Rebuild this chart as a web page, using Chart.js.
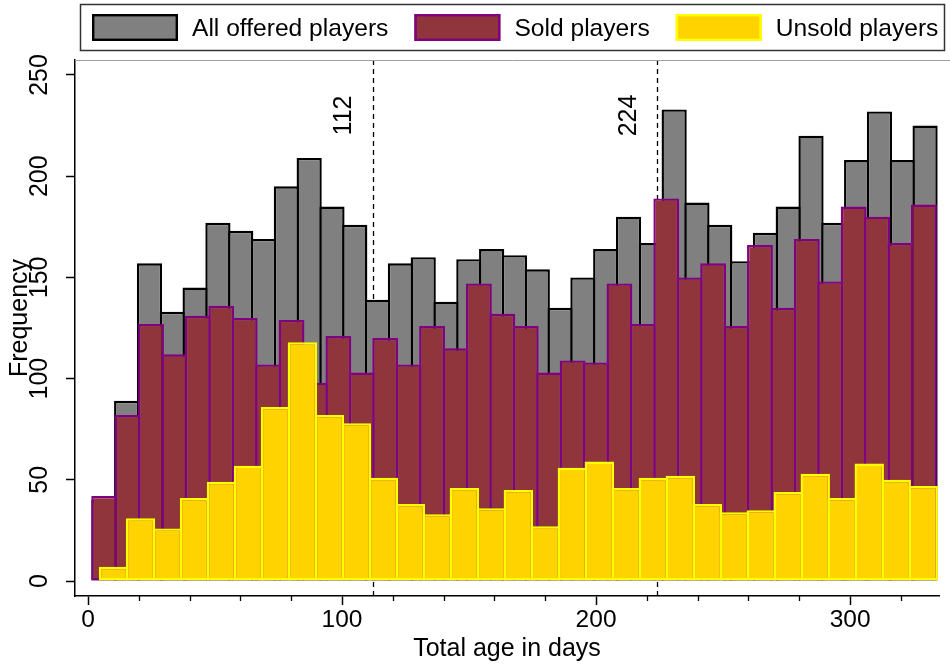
<!DOCTYPE html>
<html>
<head>
<meta charset="utf-8">
<script src="https://cdn.jsdelivr.net/npm/chart.js@4.4.1/dist/chart.umd.min.js"></script>
<style>
  html, body { margin: 0; padding: 0; background: #fff; }
</style>
</head>
<body>
<canvas id="myChart" width="950" height="666"></canvas>
<script>
// histogram bins: first bin edge (days), bin width (days), counts
var allStart = 1.75, allWidth = 8.98;
var allCounts = [40, 89, 157, 133, 145, 177, 173, 169, 195, 209, 185, 176, 139, 157, 160, 138, 159, 164, 161,
  154, 135, 150, 164, 180, 167, 233, 187, 176, 158, 172, 185, 220, 177, 208, 232, 208, 225];

var soldStart = 1.75, soldWidth = 9.22;
var soldCounts = [42, 82, 127, 112, 131, 136, 130, 107, 129, 98, 121, 103, 120, 107, 126, 115, 147, 132,
  126, 103, 109, 108, 147, 127, 189, 150, 157, 126, 166, 135, 169, 148, 185, 180, 167, 186];

var unsoldStart = 4.72, unsoldWidth = 10.625;
var unsoldCounts = [7, 31, 26, 41, 49, 57, 86, 118, 82, 78, 51, 38, 33, 46, 36, 45, 27, 56, 59, 46, 51,
  52, 38, 34, 35, 44, 53, 41, 58, 50, 47];

var seriesLabels = ["All offered players", "Sold players", "Unsold players"];
var markLines = [112, 224]; // dashed reference lines
var yTicks = [0, 50, 100, 150, 200, 250];
var xMajorStep = 100, xMinorStep = 20;

var FONT = '"Liberation Sans", Arial, Helvetica, sans-serif';

function toBins(start, width, counts) {
  return counts.map(function (c, i) {
    return { x: start + width * (i + 0.5), y: c };
  });
}

function xAxis(show) {
  return {
    type: "linear",
    display: show,
    position: "bottom",
    min: -5.12,
    max: 335.0,
    offset: false,
    ticks: {
      stepSize: xMajorStep,
      includeBounds: false,
      color: "#000",
      font: { family: FONT, size: 24.5 },
      padding: 1,
      maxRotation: 0
    },
    grid: { offset: false, drawOnChartArea: false, tickLength: 9, tickColor: "#000", tickWidth: 1.5 },
    border: { color: "#000", width: 1.5 },
    title: {
      display: show,
      text: "Total age in days",
      color: "#000",
      font: { family: FONT, size: 25 },
      padding: { top: 0, bottom: 2 }
    },
    afterFit: function (scale) { if (show) scale.height = 70; }
  };
}

// dashed lines + rotated labels behind the bars, axes decorations and legend on top
var decorations = {
  id: "decorations",
  beforeDatasetsDraw: function (chart) {
    var ctx = chart.ctx, area = chart.chartArea;
    var xs = chart.scales.x, ys = chart.scales.y;
    ctx.save();
    ctx.strokeStyle = "#000";
    ctx.lineWidth = 1.3;
    ctx.setLineDash([5, 4]);
    markLines.forEach(function (v) {
      var px = Math.round(xs.getPixelForValue(v)) + 0.5;
      ctx.beginPath();
      ctx.moveTo(px, area.top);
      ctx.lineTo(px, area.bottom);
      ctx.stroke();
    });
    ctx.setLineDash([]);
    ctx.fillStyle = "#000";
    ctx.font = "25px " + FONT;
    ctx.textAlign = "center";
    ctx.textBaseline = "middle";
    markLines.forEach(function (v) {
      ctx.save();
      ctx.translate(xs.getPixelForValue(v) - 28, ys.getPixelForValue(230));
      ctx.rotate(-Math.PI / 2);
      ctx.fillText(String(v), 0, 0);
      ctx.restore();
    });
    ctx.restore();
  },
  afterDraw: function (chart) {
    var ctx = chart.ctx, area = chart.chartArea;
    var xs = chart.scales.x;
    ctx.save();

    // thin line along the top of the plot region
    ctx.strokeStyle = "#a0a0a0";
    ctx.lineWidth = 1;
    ctx.beginPath();
    ctx.moveTo(area.left, area.top + 0.5);
    ctx.lineTo(chart.width, area.top + 0.5);
    ctx.stroke();

    // minor x ticks
    ctx.strokeStyle = "#000";
    ctx.lineWidth = 1.3;
    for (var v = xMinorStep; v < xs.max; v += xMinorStep) {
      if (v % xMajorStep === 0) continue;
      var px = Math.round(xs.getPixelForValue(v)) + 0.5;
      ctx.beginPath();
      ctx.moveTo(px, area.bottom);
      ctx.lineTo(px, area.bottom + 5);
      ctx.stroke();
    }

    // y axis title (overlaps tick labels like the original)
    ctx.fillStyle = "#000";
    ctx.font = "25px " + FONT;
    ctx.save();
    ctx.translate(27, 318);
    ctx.rotate(-Math.PI / 2);
    ctx.textAlign = "center";
    ctx.textBaseline = "alphabetic";
    ctx.fillText("Frequency", 0, 0);
    ctx.restore();

    // legend with frame
    ctx.strokeStyle = "#333";
    ctx.lineWidth = 1.5;
    ctx.strokeRect(80.5, 4.5, 864, 46);
    ctx.font = "24.6px " + FONT;
    ctx.textAlign = "left";
    ctx.textBaseline = "middle";
    var x = 92;
    chart.data.datasets.forEach(function (ds) {
      ctx.fillStyle = ds.backgroundColor;
      ctx.fillRect(x, 14, 86, 27);
      ctx.strokeStyle = ds.borderColor;
      ctx.lineWidth = 2.4;
      ctx.strokeRect(x + 1.2, 15.2, 83.6, 24.6);
      x += 86 + 14;
      ctx.fillStyle = "#000";
      ctx.fillText(ds.label, x, 29);
      x += ctx.measureText(ds.label).width + 26;
    });
    ctx.restore();
  }
};

var ctx = document.getElementById("myChart").getContext("2d");
var myChart = new Chart(ctx, {
  type: "bar",
  data: {
    datasets: [
      {
        label: seriesLabels[0],
        data: toBins(allStart, allWidth, allCounts),
        xAxisID: "x",
        backgroundColor: "#808080",
        borderColor: "#000000",
        order: 3,
        barPercentage: 1.105
      },
      {
        label: seriesLabels[1],
        data: toBins(soldStart, soldWidth, soldCounts),
        xAxisID: "x2",
        backgroundColor: "#90353B",
        borderColor: "#800080",
        order: 2,
        barPercentage: 1.103
      },
      {
        label: seriesLabels[2],
        data: toBins(unsoldStart, unsoldWidth, unsoldCounts),
        xAxisID: "x3",
        backgroundColor: "#FFD300",
        borderColor: "#FFFF00",
        order: 1,
        barPercentage: 1.089
      }
    ]
  },
  options: {
    responsive: false,
    animation: false,
    layout: { padding: { top: 60, right: 11, left: 0, bottom: 0 } },
    datasets: {
      bar: {
        grouped: false,
        categoryPercentage: 1,
        borderWidth: 2.4,
        borderSkipped: false,
        inflateAmount: 0
      }
    },
    plugins: {
      legend: { display: false },
      tooltip: { enabled: false }
    },
    scales: {
      x: xAxis(true),
      x2: xAxis(false),
      x3: xAxis(false),
      y: {
        type: "linear",
        min: -7.4,
        max: 257.4,
        afterBuildTicks: function (scale) {
          scale.ticks = yTicks.map(function (v) { return { value: v }; });
        },
        ticks: {
          color: "#000",
          font: { family: FONT, size: 25 },
          minRotation: 90,
          maxRotation: 90,
          crossAlign: "center",
          padding: 5
        },
        grid: { drawOnChartArea: false, tickLength: 9, tickColor: "#000", tickWidth: 1.5 },
        border: { color: "#000", width: 1.5 },
        afterFit: function (scale) { scale.width = 75; }
      }
    }
  },
  plugins: [decorations]
});
</script>
</body>
</html>
